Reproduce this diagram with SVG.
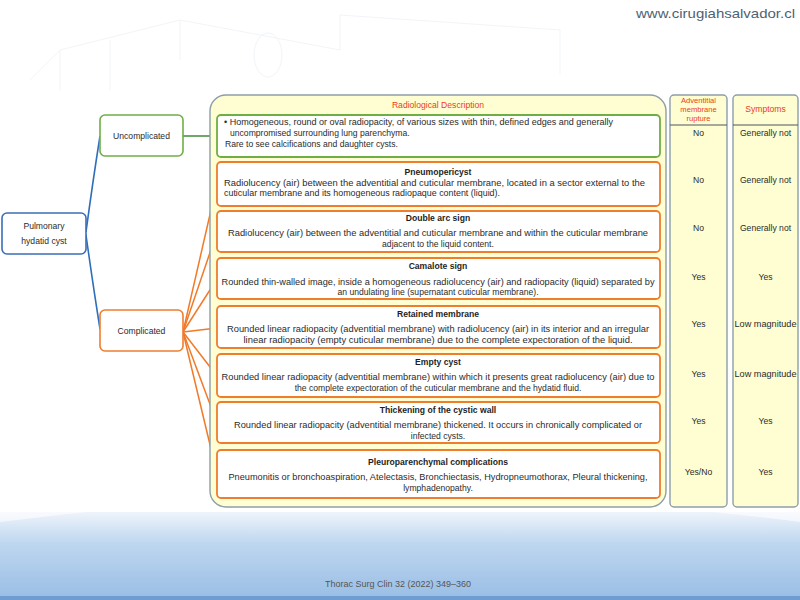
<svg xmlns="http://www.w3.org/2000/svg" width="800" height="600" viewBox="0 0 800 600">
<defs>
<linearGradient id="band" x1="0" y1="0" x2="0" y2="1">
<stop offset="0" stop-color="#eef4fb"/>
<stop offset="0.35" stop-color="#bfd7f0"/>
<stop offset="1" stop-color="#98bde5"/>
</linearGradient>
<style>
text{font-family:"Liberation Sans",Arial,sans-serif;fill:#2b2b2b;}
.b{font-size:8.6px;}
.t{font-size:8.6px;font-weight:bold;fill:#1e1e1e;}
.c{text-anchor:middle;}
.red{fill:#ee3b1c;font-size:8.6px;text-anchor:middle;}
.ob{fill:#fff;stroke:#ee7d2e;stroke-width:1.8;}
.gb{fill:#fff;stroke:#6fae45;stroke-width:1.8;}
.nb{fill:#fff;stroke-width:1.6;}
.col{fill:#fefed2;stroke:#8d9ea9;stroke-width:1.4;}
.ol{stroke:#f07a28;stroke-width:1.5;fill:none;}
.bl{stroke:#2f6fba;stroke-width:1.6;fill:none;}
</style>
</defs>
<rect x="0" y="0" width="800" height="600" fill="#ffffff"/>
<g stroke="#e6ebf2" stroke-width="1" fill="none" opacity="0.5">
<path d="M30 80 L60 50 L180 20 L340 50 L340 15 L560 30 L560 75"/>
<path d="M60 50 L60 90 M110 40 L110 90 M180 20 L180 60"/>
<ellipse cx="268" cy="55" rx="14" ry="22"/>
</g>
<rect x="0" y="512" width="800" height="88" fill="url(#band)"/>
<path d="M0 522 Q400 470 800 522 L800 512 L0 512 Z" fill="#ffffff" opacity="0.6"/>
<rect x="0" y="596" width="800" height="4" fill="#6f9dd2"/>
<text x="795" y="18" style="font-size:13px;fill:#4d6272;text-anchor:end" textLength="159" lengthAdjust="spacingAndGlyphs">www.cirugiahsalvador.cl</text>
<text x="398" y="587" style="font-size:9px;fill:#555;text-anchor:middle">Thorac Surg Clin 32 (2022) 349–360</text>

<g id="connectors">
<path class="bl" d="M86 232 Q93 180 100 136"/>
<path class="bl" d="M86 235 Q93 285 100 329"/>
<line x1="183" y1="136" x2="217" y2="136" stroke="#3d8c3d" stroke-width="1.6"/>
<line class="ol" x1="183" y1="332" x2="217" y2="184"/>
<line class="ol" x1="183" y1="332" x2="217" y2="232"/>
<line class="ol" x1="183" y1="332" x2="217" y2="279"/>
<line class="ol" x1="183" y1="332" x2="217" y2="328"/>
<line class="ol" x1="183" y1="332" x2="217" y2="376"/>
<line class="ol" x1="183" y1="332" x2="217" y2="423"/>
<line class="ol" x1="183" y1="332" x2="217" y2="474"/>
</g>

<g id="pulmonary">
<rect class="nb" x="2" y="213" width="84" height="41" rx="5" stroke="#3a6fb8"/>
<text class="b c" x="44" y="229">Pulmonary</text>
<text class="b c" x="44" y="244">hydatid cyst</text>
</g>
<g id="uncomplicated">
<rect class="nb" x="100" y="115" width="83" height="41" rx="5" stroke="#6fae45"/>
<text class="b c" x="141.5" y="139">Uncomplicated</text>
</g>
<g id="complicated">
<rect class="nb" x="100" y="310" width="83" height="41" rx="5" stroke="#ee7d2e"/>
<text class="b c" x="141.5" y="334">Complicated</text>
</g>

<g id="panel">
<rect x="210" y="95" width="456" height="412" rx="16" fill="#fefed2" stroke="#8d9ea9" stroke-width="1.4"/>
<text class="red" x="438" y="108">Radiological Description</text>
</g>

<g id="desc-uncomplicated">
<rect class="gb" x="217" y="115" width="443" height="42" rx="4"/>
<text class="b" x="224" y="125" textLength="389" lengthAdjust="spacingAndGlyphs">• Homogeneous, round or oval radiopacity, of various sizes with thin, defined edges and generally</text>
<text class="b" x="230" y="136">uncompromised surrounding lung parenchyma.</text>
<text class="b" x="225" y="147">Rare to see calcifications and daughter cysts.</text>
</g>
<g id="pneumopericyst">
<rect class="ob" x="217" y="162" width="443" height="44" rx="4"/>
<text class="t c" x="438" y="175">Pneumopericyst</text>
<text class="b" x="224" y="186" textLength="421" lengthAdjust="spacingAndGlyphs">Radiolucency (air) between the adventitial and cuticular membrane, located in a sector external to the</text>
<text class="b" x="224" y="196" textLength="276" lengthAdjust="spacingAndGlyphs">cuticular membrane and its homogeneous radiopaque content (liquid).</text>
</g>
<g id="double-arc">
<rect class="ob" x="217" y="211" width="443" height="41" rx="4"/>
<text class="t c" x="438" y="221">Double arc sign</text>
<text class="b c" x="438" y="236" textLength="420" lengthAdjust="spacingAndGlyphs">Radiolucency (air) between the adventitial and cuticular membrane and within the cuticular membrane</text>
<text class="b c" x="438" y="247">adjacent to the liquid content.</text>
</g>
<g id="camalote">
<rect class="ob" x="217" y="258" width="443" height="41" rx="4"/>
<text class="t c" x="438" y="269">Camalote sign</text>
<text class="b c" x="438" y="285" textLength="433" lengthAdjust="spacingAndGlyphs">Rounded thin-walled image, inside a homogeneous radiolucency (air) and radiopacity (liquid) separated by</text>
<text class="b c" x="438" y="295">an undulating line (supernatant cuticular membrane).</text>
</g>
<g id="retained">
<rect class="ob" x="217" y="306" width="443" height="42" rx="4"/>
<text class="t c" x="438" y="317">Retained membrane</text>
<text class="b c" x="438" y="332" textLength="422" lengthAdjust="spacingAndGlyphs">Rounded linear radiopacity (adventitial membrane) with radiolucency (air) in its interior and an irregular</text>
<text class="b c" x="438" y="343" textLength="389" lengthAdjust="spacingAndGlyphs">linear radiopacity (empty cuticular membrane) due to the complete expectoration of the liquid.</text>
</g>
<g id="empty-cyst">
<rect class="ob" x="217" y="354" width="443" height="43" rx="4"/>
<text class="t c" x="438" y="365">Empty cyst</text>
<text class="b c" x="438" y="380" textLength="433" lengthAdjust="spacingAndGlyphs">Rounded linear radiopacity (adventitial membrane) within which it presents great radiolucency (air) due to</text>
<text class="b c" x="438" y="391">the complete expectoration of the cuticular membrane and the hydatid fluid.</text>
</g>
<g id="thickening">
<rect class="ob" x="217" y="402" width="443" height="41" rx="4"/>
<text class="t c" x="438" y="413">Thickening of the cystic wall</text>
<text class="b c" x="438" y="428" textLength="408" lengthAdjust="spacingAndGlyphs">Rounded linear radiopacity (adventitial membrane) thickened. It occurs in chronically complicated or</text>
<text class="b c" x="438" y="439">infected cysts.</text>
</g>
<g id="pleuroparenchymal">
<rect class="ob" x="217" y="450" width="443" height="48" rx="4"/>
<text class="t c" x="438" y="465">Pleuroparenchymal complications</text>
<text class="b c" x="438" y="480" textLength="419" lengthAdjust="spacingAndGlyphs">Pneumonitis or bronchoaspiration, Atelectasis, Bronchiectasis, Hydropneumothorax, Pleural thickening,</text>
<text class="b c" x="438" y="491">lymphadenopathy.</text>
</g>

<g id="col-rupture">
<rect class="col" x="670" y="95" width="57" height="412" rx="4"/>
<line x1="670" y1="125" x2="727" y2="125" stroke="#4a5560" stroke-width="1"/>
<text class="red" x="698.5" y="103" style="font-size:7.6px">Adventitial</text>
<text class="red" x="698.5" y="112" style="font-size:7.6px">membrane</text>
<text class="red" x="698.5" y="121" style="font-size:7.6px">rupture</text>
<text class="b c" x="698.5" y="136">No</text>
<text class="b c" x="698.5" y="183">No</text>
<text class="b c" x="698.5" y="231">No</text>
<text class="b c" x="698.5" y="280">Yes</text>
<text class="b c" x="698.5" y="327">Yes</text>
<text class="b c" x="698.5" y="377">Yes</text>
<text class="b c" x="698.5" y="424">Yes</text>
<text class="b c" x="698.5" y="475">Yes/No</text>
</g>
<g id="col-symptoms">
<rect class="col" x="733" y="95" width="65" height="412" rx="4"/>
<line x1="733" y1="125" x2="798" y2="125" stroke="#4a5560" stroke-width="1"/>
<text class="red" x="765.5" y="112">Symptoms</text>
<text class="b c" x="765.5" y="136">Generally not</text>
<text class="b c" x="765.5" y="183">Generally not</text>
<text class="b c" x="765.5" y="231">Generally not</text>
<text class="b c" x="765.5" y="280">Yes</text>
<text class="b c" x="765.5" y="327" textLength="62" lengthAdjust="spacingAndGlyphs">Low magnitude</text>
<text class="b c" x="765.5" y="377" textLength="62" lengthAdjust="spacingAndGlyphs">Low magnitude</text>
<text class="b c" x="765.5" y="424">Yes</text>
<text class="b c" x="765.5" y="475">Yes</text>
</g>
</svg>
